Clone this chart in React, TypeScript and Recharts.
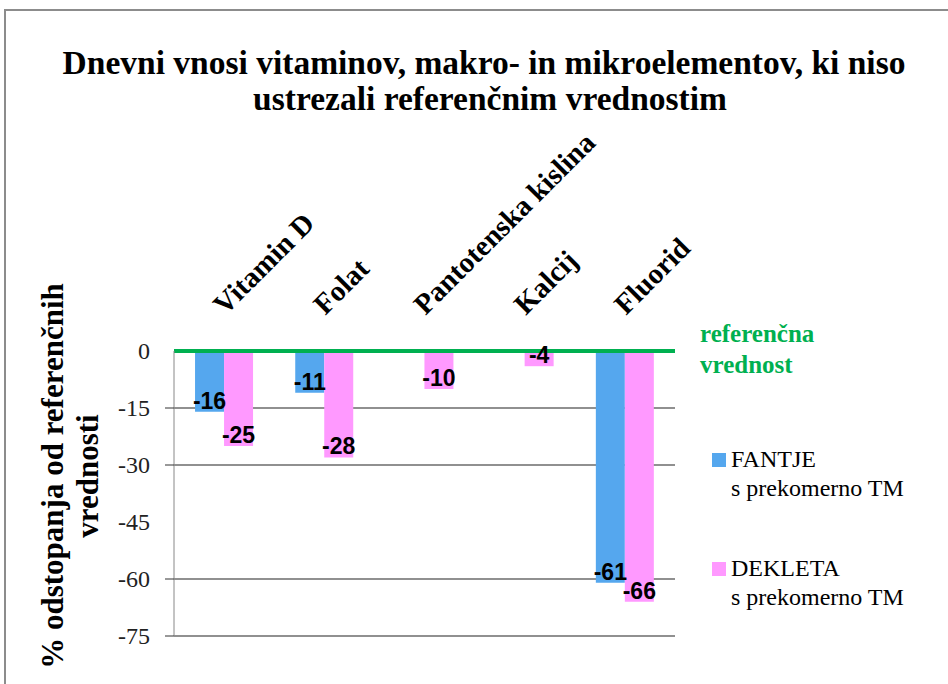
import React from "react"
import {
  BarChart,
  Bar,
  XAxis,
  YAxis,
  CartesianGrid,
  ReferenceLine,
  LabelList,
  Legend,
} from "recharts"

const categories = ["Vitamin D", "Folat", "Pantotenska kislina", "Kalcij", "Fluorid"]
const fantje = [-16, -11, null, null, -61]
const dekleta = [-25, -28, -10, -4, -66]
const yTicks = [0, -15, -30, -45, -60, -75]
const gridValues = [-15, -30, -60, -75]
const seriesNames = ["FANTJE\ns prekomerno TM", "DEKLETA\ns prekomerno TM"]
const titleLines = [
  "Dnevni vnosi vitaminov, makro- in mikroelementov, ki niso",
  "ustrezali referenčnim vrednostim",
]
const yTitleLines = ["% odstopanja od referenčnih", "vrednosti"]
const refLabelLines = ["referenčna", "vrednost"]

const data = categories.map((name, i) => ({
  name,
  fantje: fantje[i],
  dekleta: dekleta[i],
}))

const SERIF = "Liberation Serif, Tinos, Times New Roman, DejaVu Serif, serif"
const SANS = "Liberation Sans, Arial, sans-serif"
const BLUE = "#55A7EE"
const PINK = "#FF99FF"
const GREEN = "#00B050"
const TICK_SIZE = 9
const TICK_MARGIN = 15

function CategoryTick(props: any) {
  const { x, y, payload } = props
  return (
    <text
      transform={`translate(${x + 1},${y - 35}) rotate(-45)`}
      textAnchor="start"
      style={{ fontFamily: SERIF, fontWeight: "bold", fontSize: 29 }}
      fill="#000"
    >
      {payload.value}
    </text>
  )
}

function ValueTick(props: any) {
  const { x, y, payload } = props
  return (
    <g>
      {gridValues.includes(payload.value) && (
        <line
          x1={x + TICK_MARGIN}
          x2={x + TICK_MARGIN + TICK_SIZE}
          y1={y}
          y2={y}
          stroke="#333"
        />
      )}
      <text x={x} y={y} dy={8} textAnchor="end" style={{ fontFamily: SERIF, fontSize: 24 }} fill="#222">
        {payload.value}
      </text>
    </g>
  )
}

function BarValue(props: any) {
  const { x, y, width, height, value } = props
  if (value == null) return null
  const bottom = Math.max(y, y + height)
  return (
    <text
      x={x + width / 2}
      y={bottom - 3}
      textAnchor="middle"
      style={{ fontFamily: SANS, fontWeight: "bold", fontSize: 23 }}
      fill="#000"
    >
      {value}
    </text>
  )
}

function RefLabel(props: any) {
  const { viewBox } = props
  const x = viewBox.x + viewBox.width + 25
  return (
    <text style={{ fontFamily: SERIF, fontWeight: "bold", fontSize: 25 }} fill={GREEN}>
      <tspan x={x} y={viewBox.y - 9}>{refLabelLines[0]}</tspan>
      <tspan x={x} y={viewBox.y + 22}>{refLabelLines[1]}</tspan>
    </text>
  )
}

function LegendBox(props: any) {
  const entries = [...(props.payload || [])].sort(
    (a: any, b: any) => seriesNames.indexOf(a.value) - seriesNames.indexOf(b.value)
  )
  return (
    <div style={{ position: "relative", width: 230, height: 200 }}>
      {entries.map((entry: any, i: number) => (
        <div key={i} style={{ position: "absolute", left: 0, top: i * 109 }}>
          <div
            style={{
              position: "absolute",
              left: 0,
              top: 8,
              width: 14,
              height: 14,
              background: entry.color,
            }}
          />
          <div
            style={{
              position: "absolute",
              left: 19,
              top: 0,
              whiteSpace: "pre",
              fontFamily: SERIF,
              fontSize: 24,
              lineHeight: "29px",
              color: "#000",
            }}
          >
            {entry.value}
          </div>
        </div>
      ))}
    </div>
  )
}

export default function App() {
  return (
    <div
      style={{
        position: "absolute",
        left: 0,
        top: 0,
        width: 948,
        height: 684,
        background: "#fff",
        overflow: "hidden",
      }}
    >
      <BarChart
        width={948}
        height={684}
        data={data}
        margin={{ top: 321, right: 273, left: 114, bottom: 48 }}
        barCategoryGap="21%"
        barGap={0}
      >
        <CartesianGrid
          horizontal
          vertical={false}
          horizontalValues={gridValues}
          stroke="#222"
          strokeWidth={1.2}
        />
        <XAxis
          dataKey="name"
          orientation="top"
          height={30}
          axisLine={false}
          tickLine={false}
          tickSize={0}
          tickMargin={0}
          interval={0}
          tick={<CategoryTick />}
        />
        <YAxis
          domain={[-75, 0]}
          ticks={yTicks}
          width={60}
          tickSize={TICK_SIZE}
          tickMargin={TICK_MARGIN}
          tickLine={false}
          axisLine={{ stroke: "#888" }}
          tick={<ValueTick />}
        />
        <Legend
          layout="vertical"
          align="center"
          verticalAlign="middle"
          content={<LegendBox />}
          wrapperStyle={{ left: 712, top: 445, width: 230 }}
        />
        <Bar dataKey="fantje" name={seriesNames[0]} fill={BLUE} isAnimationActive={false}>
          <LabelList dataKey="fantje" content={<BarValue />} />
        </Bar>
        <Bar dataKey="dekleta" name={seriesNames[1]} fill={PINK} isAnimationActive={false}>
          <LabelList dataKey="dekleta" content={<BarValue />} />
        </Bar>
        <ReferenceLine y={0} stroke={GREEN} strokeWidth={4} label={<RefLabel />} />
      </BarChart>
      <svg
        width={948}
        height={684}
        style={{ position: "absolute", left: 0, top: 0, pointerEvents: "none" }}
      >
        <rect x={5} y={10} width={980} height={720} fill="none" stroke="#8c8c8c" strokeWidth={2} />
        <text
          style={{ fontFamily: SERIF, fontWeight: "bold", fontSize: 33.5 }}
          fill="#000"
          textAnchor="middle"
        >
          <tspan x={484} y={74}>{titleLines[0]}</tspan>
          <tspan x={490} y={110}>{titleLines[1]}</tspan>
        </text>
        <text
          transform="translate(63,476) rotate(-90)"
          style={{ fontFamily: SERIF, fontWeight: "bold", fontSize: 31 }}
          fill="#000"
          textAnchor="middle"
        >
          <tspan x={0} y={0}>{yTitleLines[0]}</tspan>
          <tspan x={0} y={35}>{yTitleLines[1]}</tspan>
        </text>
      </svg>
    </div>
  )
}
